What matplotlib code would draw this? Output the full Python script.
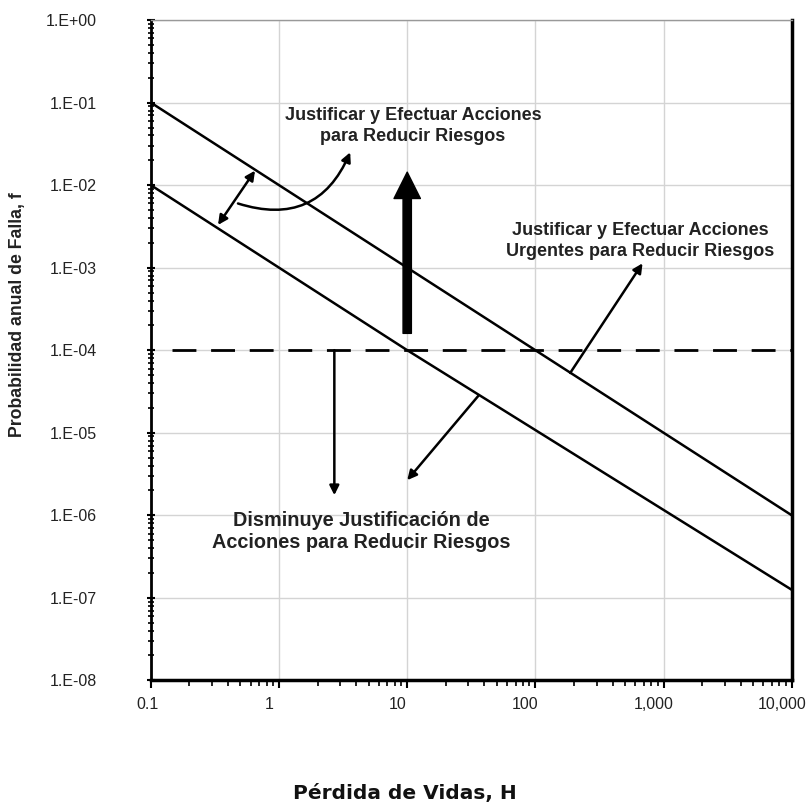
import matplotlib
matplotlib.use("Agg")
import matplotlib.pyplot as plt
from matplotlib.ticker import FixedLocator, LogLocator, NullFormatter
from matplotlib.transforms import ScaledTranslation

# limit lines (H vs f)
upper_h = [0.1, 10000]
upper_f = [1e-1, 1e-6]
lower_h = [0.1, 10, 10000]
lower_f = [1e-2, 1e-4, 1.25e-7]
limit_h = [0.146, 10000]
limit_f = [1e-4, 1e-4]

x_ticks = [0.1, 1, 10, 100, 1000, 10000]
x_labels = ["0.1", "1", "10", "100", "1,000", "10,000"]
y_ticks = [1e-8, 1e-7, 1e-6, 1e-5, 1e-4, 1e-3, 1e-2, 1e-1, 1e0]
y_labels = ["1.E-08", "1.E-07", "1.E-06", "1.E-05", "1.E-04",
            "1.E-03", "1.E-02", "1.E-01", "1.E+00"]

txt_top = "Justificar y Efectuar Acciones\npara Reducir Riesgos"
txt_right = "Justificar y Efectuar Acciones\nUrgentes para Reducir Riesgos"
txt_bottom = "Disminuye Justificación de\nAcciones para Reducir Riesgos"

fig = plt.figure(figsize=(8.07, 8.06), dpi=100)
ax = fig.add_axes([0.187, 0.156, 0.794, 0.819])
ax.set_xscale("log")
ax.set_yscale("log")
ax.set_xlim(0.1, 10000)
ax.set_ylim(1e-8, 1e0)

ax.grid(True, which="major", color="#d4d4d4", lw=1.0)
ax.set_axisbelow(True)

ax.plot(upper_h, upper_f, color="black", lw=1.8, solid_capstyle="butt")
ax.plot(lower_h, lower_f, color="black", lw=1.8, solid_capstyle="butt")
ax.plot(limit_h, limit_f, color="black", lw=2.0, dashes=(8.6, 5.3))

arrow_kw = dict(arrowstyle="-|>", color="black", lw=1.8, mutation_scale=14,
                shrinkA=0, shrinkB=0)

# double arrow between the two lines
ax.annotate("", xy=(0.649, 1.5e-2), xytext=(0.334, 3.3e-3),
            arrowprops=dict(arrow_kw, arrowstyle="<|-|>"))
# curved arrow to upper text
ax.annotate("", xy=(3.59, 2.5e-2), xytext=(0.478, 6.0e-3),
            arrowprops=dict(arrow_kw, connectionstyle="arc3,rad=0.45"))
# big vertical arrow
ax.annotate("", xy=(10, 1.44e-2), xytext=(10, 1.6e-4),
            arrowprops=dict(facecolor="black", edgecolor="black", width=6,
                            headwidth=19, headlength=19, shrink=0))
# arrow to right text
ax.annotate("", xy=(686, 1.13e-3), xytext=(187, 5.3e-5), arrowprops=arrow_kw)
# arrow below lower line
ax.annotate("", xy=(10, 2.66e-6), xytext=(35.9, 2.8e-5), arrowprops=arrow_kw)
# arrow down from limit
ax.annotate("", xy=(2.7, 1.75e-6), xytext=(2.7, 1e-4), arrowprops=arrow_kw)

text_kw = dict(ha="center", va="center", fontweight="bold",
               family="Liberation Sans", color="#222222")
ax.text(11.1, 5.2e-2, txt_top, fontsize=13, linespacing=1.32, **text_kw)
ax.text(661, 2.1e-3, txt_right, fontsize=13, linespacing=1.32, **text_kw)
ax.text(4.37, 6.4e-7, txt_bottom, fontsize=14.3, linespacing=1.2, **text_kw)

ax.xaxis.set_major_locator(FixedLocator(x_ticks))
ax.set_xticklabels(x_labels)
ax.xaxis.set_minor_locator(LogLocator(base=10, subs=range(2, 10)))
ax.xaxis.set_minor_formatter(NullFormatter())
ax.yaxis.set_major_locator(FixedLocator(y_ticks))
ax.set_yticklabels(y_labels)
ax.yaxis.set_minor_locator(LogLocator(base=10, subs=range(2, 10)))
ax.yaxis.set_minor_formatter(NullFormatter())

ax.tick_params(axis="x", which="major", direction="out", length=6, width=1.5,
               pad=6, labelsize=11.5, labelcolor="#222222")
ax.tick_params(axis="x", which="minor", direction="out", length=4, width=1.2)
ax.tick_params(axis="y", which="major", direction="inout", length=6, width=1.5,
               pad=36, labelsize=11.5, labelcolor="#222222")
ax.tick_params(axis="y", which="minor", direction="inout", length=4, width=1.2)
for lab in ax.get_xticklabels() + ax.get_yticklabels():
    lab.set_family("Liberation Sans")
for i, lab in enumerate(ax.get_xticklabels()):
    shift = -3 if i == 0 else -10
    lab.set_transform(lab.get_transform() +
                      ScaledTranslation(shift / 100, 0, fig.dpi_scale_trans))

ax.spines["left"].set_linewidth(2.0)
ax.spines["bottom"].set_linewidth(2.5)
ax.spines["right"].set_linewidth(2.5)
ax.spines["top"].set_linewidth(1.0)
ax.spines["top"].set_color("#999999")

fig.text(18 / 807, 1 - 315 / 806, "Probabilidad anual de Falla, f", rotation=90,
         ha="center", va="center", fontsize=12.7, fontweight="bold",
         family="Liberation Sans", color="#222222")
fig.text(405 / 807, 1 - 794 / 806, "Pérdida de Vidas, H", ha="center",
         va="center", fontsize=14.5, fontweight="bold", family="DejaVu Sans",
         color="#111111")

fig.savefig("out.png", dpi=100)
